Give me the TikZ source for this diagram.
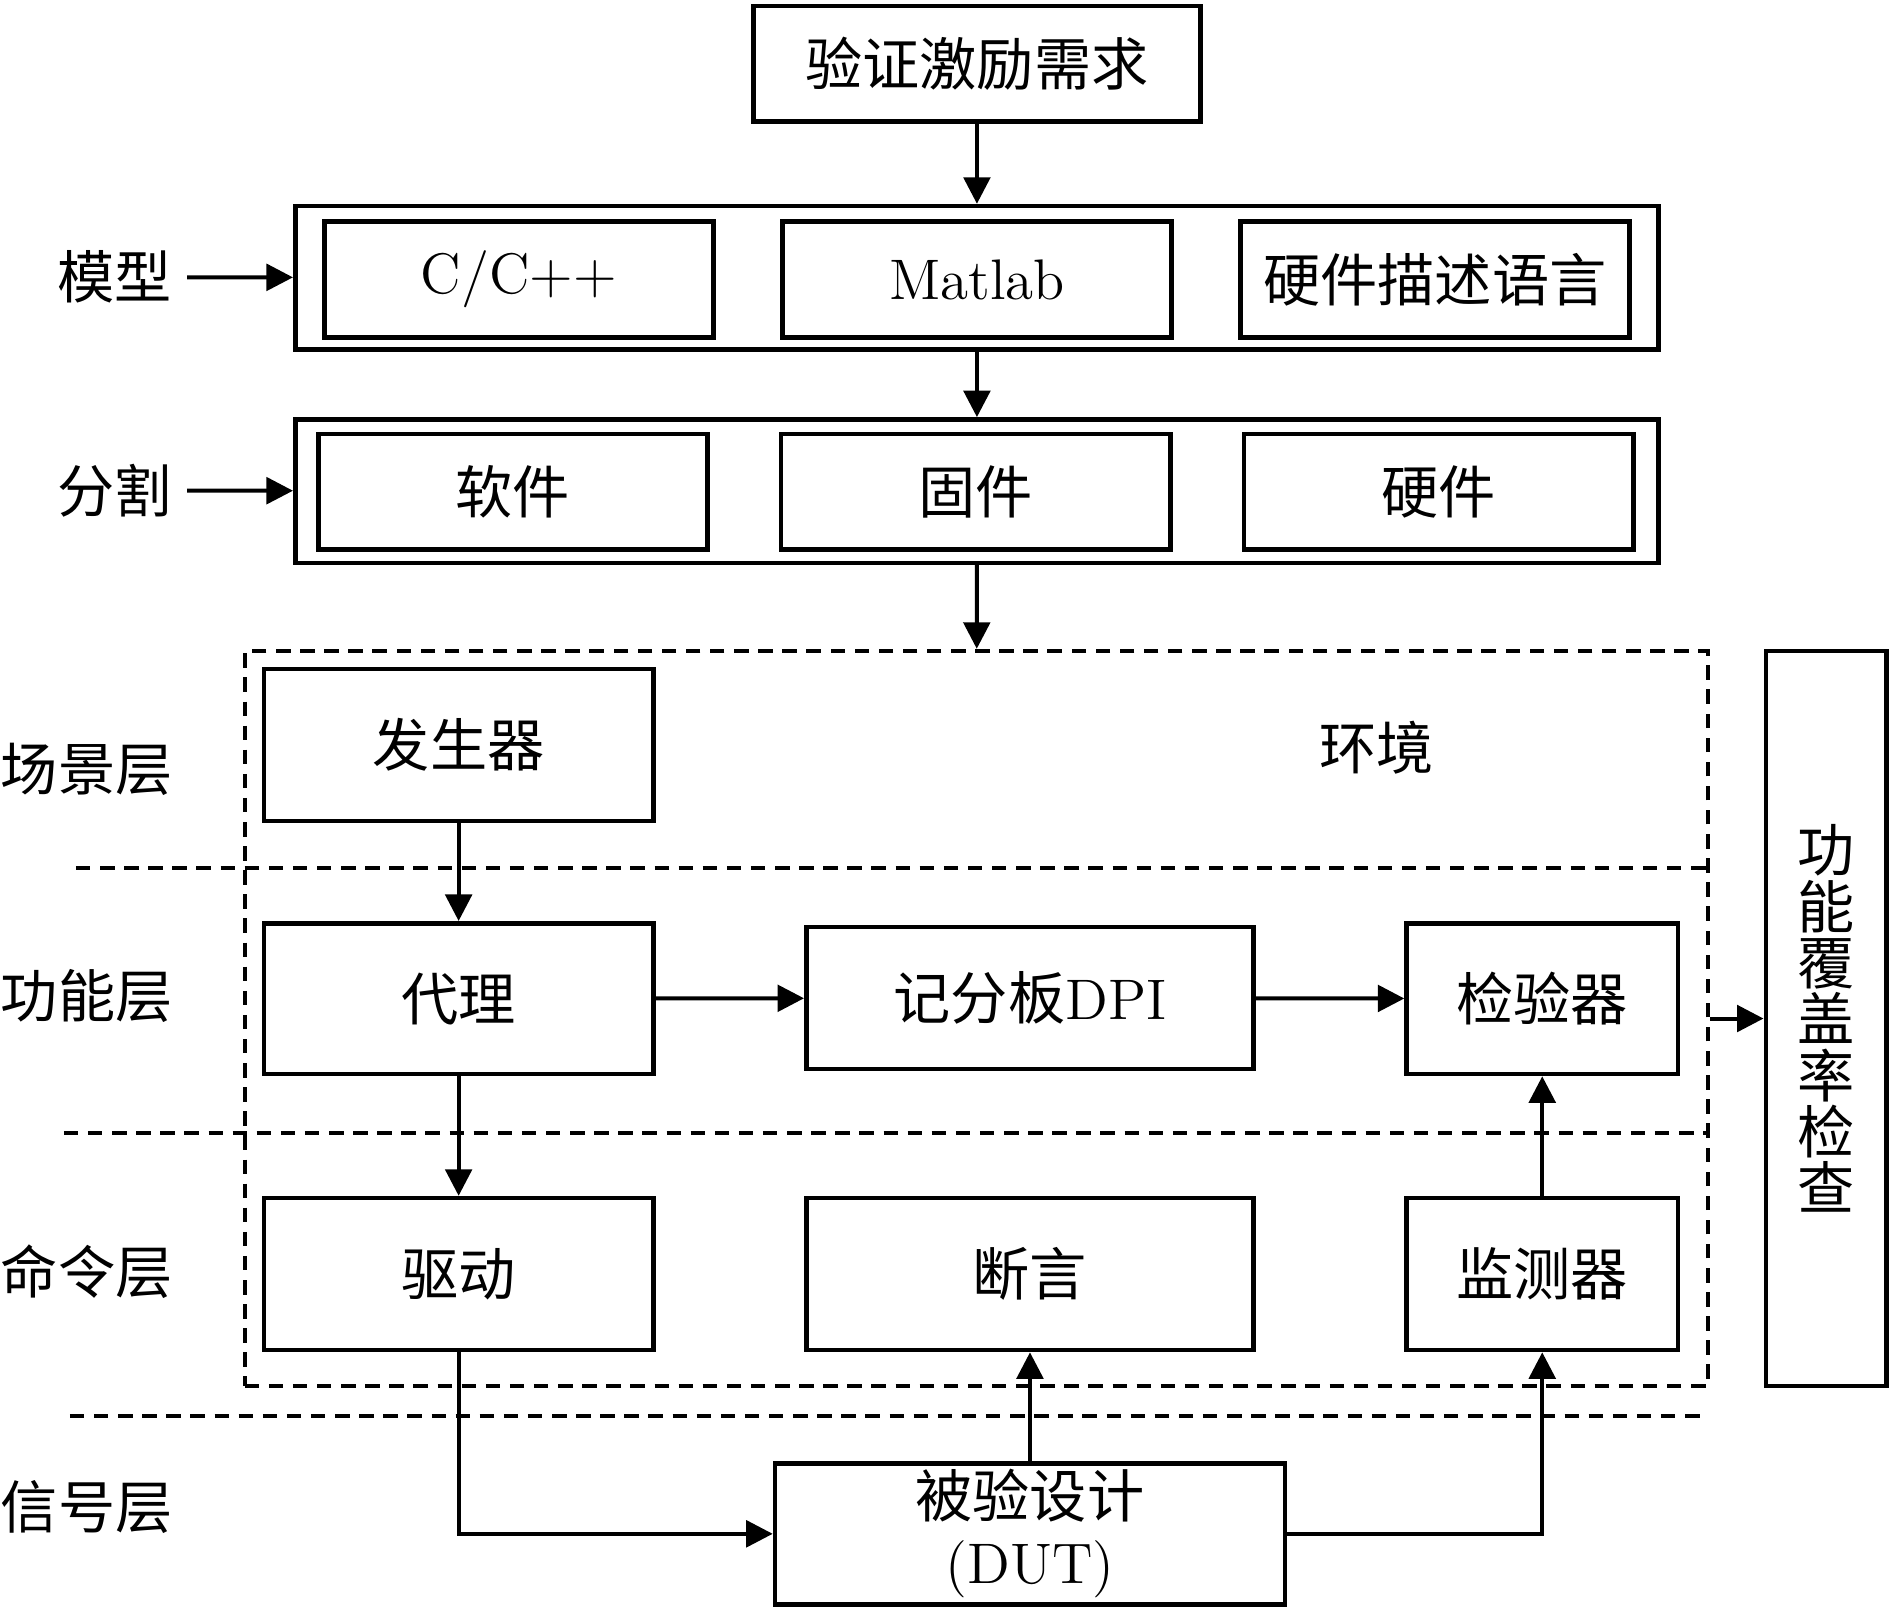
\documentclass[tikz,border=0pt]{standalone}
\usepackage{fontspec}
\newfontfamily\cjk{Noto Sans CJK SC}
\usetikzlibrary{arrows.meta}
\begin{document}
\begin{tikzpicture}[x=0.1mm,y=-0.1mm,
  box/.style={draw, line width=1.1pt, inner sep=0pt, align=center, font=\fontsize{13.5}{15.5}\selectfont},
  lbl/.style={inner sep=1.2mm, font=\fontsize{13.5}{15.5}\selectfont\cjk},
  arr/.style={line width=0.95pt, -{Triangle[length=2.2mm,width=2.2mm]}},
  dsh/.style={line width=1pt, dash pattern=on 1.2mm off 0.8mm}]
\useasboundingbox (0,0) rectangle (1568,1338);
% top part
\node[box, minimum width=37.1mm, minimum height=9.6mm] (req) at (810.5,53) {\cjk 验证激励需求};
\node[box, minimum width=113.1mm, minimum height=11.9mm] (model) at (810.5,230.5) {};
\node[box, minimum width=32.3mm, minimum height=9.6mm] (c) at (430.5,232) {C/C++};
\node[box, minimum width=32.3mm, minimum height=9.6mm] (mat) at (810.5,232) {Matlab};
\node[box, minimum width=32.3mm, minimum height=9.6mm] (hdl) at (1190.5,232) {\cjk 硬件描述语言};
\node[box, minimum width=113.1mm, minimum height=11.9mm] (part) at (810.5,407.5) {};
\node[box, minimum width=32.3mm, minimum height=9.6mm] (sw) at (425.5,408) {\cjk 软件};
\node[box, minimum width=32.3mm, minimum height=9.6mm] (fw) at (809.5,408) {\cjk 固件};
\node[box, minimum width=32.3mm, minimum height=9.6mm] (hw) at (1193.5,408) {\cjk 硬件};
\node[lbl] (lmodel) at (95,230) {模型};
\node[lbl] (lpart) at (95,407) {分割};
% environment
\node[box, dsh, minimum width=121.4mm, minimum height=61mm] (env) at (810,845) {};
\node[box, minimum width=10mm, minimum height=61mm, font=\fontsize{13.5}{13.3}\selectfont\cjk] (cov) at (1515,845) {功\\能\\覆\\盖\\率\\检\\查};
\node[box, minimum width=32.3mm, minimum height=12.6mm] (gen) at (380.5,618) {\cjk 发生器};
\node[lbl] (envt) at (1142,620) {环境};
\node[box, minimum width=32.3mm, minimum height=12.5mm] (agent) at (380.5,828.5) {\cjk 代理};
\node[box, minimum width=37.1mm, minimum height=11.8mm] (sb) at (854.5,828) {{\cjk 记分板}DPI};
\node[box, minimum width=22.5mm, minimum height=12.5mm] (chk) at (1279.5,828.5) {\cjk 检验器};
\node[box, minimum width=32.3mm, minimum height=12.6mm] (drv) at (380.5,1057) {\cjk 驱动};
\node[box, minimum width=37.1mm, minimum height=12.6mm] (asrt) at (854.5,1057) {\cjk 断言};
\node[box, minimum width=22.5mm, minimum height=12.6mm] (mon) at (1279.5,1057) {\cjk 监测器};
\node[box, minimum width=42.3mm, minimum height=11.7mm, font=\fontsize{13.5}{15.6}\selectfont] (dut) at (854.5,1272.5) {{\cjk 被验设计}\\(DUT)};
% layer labels
\node[lbl] (l1) at (72,638) {场景层};
\node[lbl] (l2) at (72,826) {功能层};
\node[lbl] (l3) at (72,1055) {命令层};
\node[lbl] (l4) at (72,1250) {信号层};
% dashed separators
\draw[dsh] (63,720) -- (1417,720);
\draw[dsh] (53,940) -- (1417,940);
\draw[dsh] (58,1175) -- (1413,1175);
% arrows
\draw[arr] (req) -- (model);
\draw[arr] (model) -- (part);
\draw[arr] (part) -- (env);
\draw[arr] (lmodel) -- (model);
\draw[arr] (lpart) -- (part);
\draw[arr] (gen) -- (agent);
\draw[arr] (agent) -- (drv);
\draw[arr] (agent) -- (sb);
\draw[arr] (sb) -- (chk);
\draw[arr] (mon) -- (chk);
\draw[arr] (drv.south) |- (dut.west);
\draw[arr] (dut) -- (asrt);
\draw[arr] (dut.east) -| (mon.south);
\draw[arr] (env) -- (cov);
\end{tikzpicture}
\end{document}
